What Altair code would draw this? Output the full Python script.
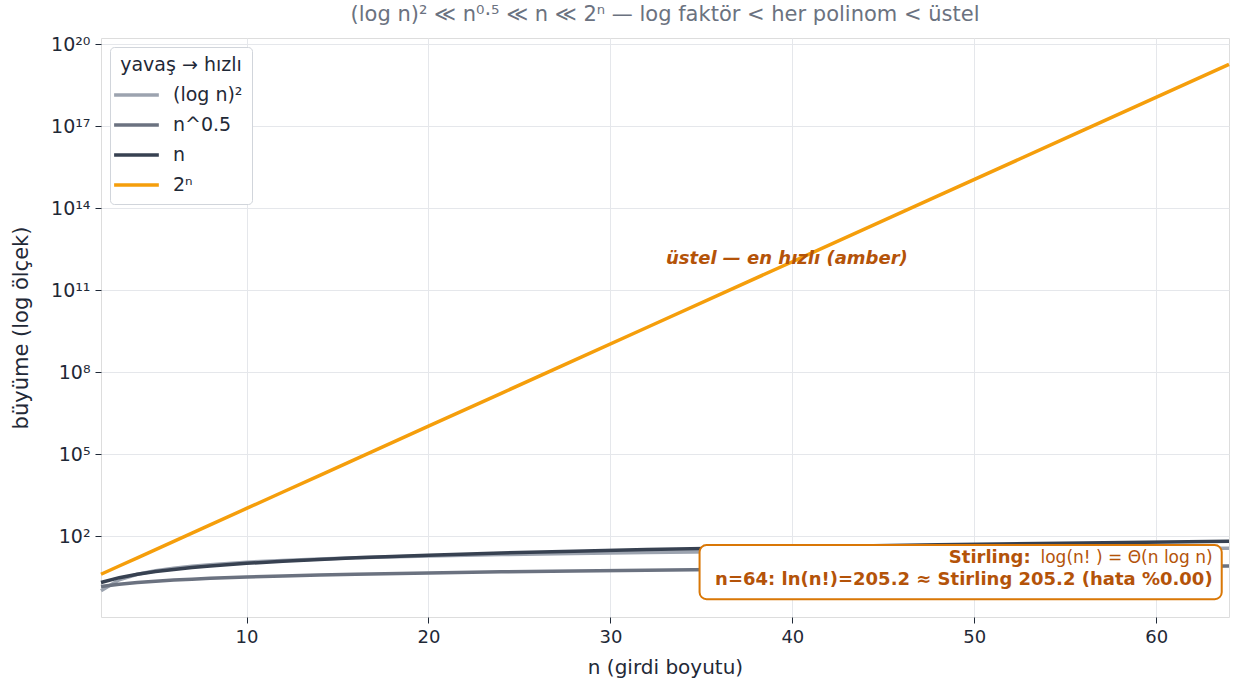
import altair as alt
import pandas as pd

# ---- data ----
n_vals = [2, 3, 4, 5, 6, 7, 8, 10, 12, 14, 16, 20, 24, 28, 32, 40, 48, 56, 64]
log2sq = [1.0, 2.512, 4.0, 5.391, 6.682, 7.880, 9.0, 11.035, 12.852, 14.507, 16.0,
          18.679, 21.022, 23.111, 25.0, 28.323, 31.192, 33.726, 36.0]
sqrt_n = [1.414, 1.732, 2.0, 2.236, 2.449, 2.646, 2.828, 3.162, 3.464, 3.742, 4.0,
          4.472, 4.899, 5.292, 5.657, 6.325, 6.928, 7.483, 8.0]
lin_n = [2, 3, 4, 5, 6, 7, 8, 10, 12, 14, 16, 20, 24, 28, 32, 40, 48, 56, 64]
exp2 = [4, 8, 16, 32, 64, 128, 256, 1024, 4096, 16384, 65536, 1048576, 16777216,
        268435456, 4294967296, 1.0995e12, 2.8147e14, 7.2058e16, 1.8447e19]

series_names = ["(log n)²", "n^0.5", "n", "2ⁿ"]
series_colors = ["#9ca3af", "#6b7280", "#374151", "#f59e0b"]
series_widths = [3.5, 3.5, 3.5, 4.5]

rows = []
for name, vals in zip(series_names, [log2sq, sqrt_n, lin_n, exp2]):
    for i, (x, y) in enumerate(zip(n_vals, vals)):
        rows.append({"n": x, "y": y, "seri": name, "order": i})
df = pd.DataFrame(rows)

x_ticks = [10, 20, 30, 40, 50, 60]
y_exps = [2, 5, 8, 11, 14, 17, 20]
y_ticks = [10.0 ** e for e in y_exps]
sup = str.maketrans("0123456789", "⁰¹²³⁴⁵⁶⁷⁸⁹")
label_expr = ""
for e in y_exps:
    label_expr += f"round(log(datum.value)/LN10)=={e} ? '10{str(e).translate(sup)}' : "
label_expr += "''"

x_dom = [2, 64]
y_dom = [10 ** -0.963, 10 ** 20.23]

FONT = "DejaVu Sans"
TXT = "#1f2937"
ANN = "#b45309"

x_scale = alt.Scale(domain=x_dom, nice=False, zero=False)
y_scale = alt.Scale(type="log", domain=y_dom, nice=False)

x_enc = alt.X("n:Q", scale=x_scale,
              axis=alt.Axis(values=x_ticks, title="n (girdi boyutu)", grid=True,
                            gridColor="#e5e7eb", labelFontSize=18, titleFontSize=20,
                            titleFontWeight="normal",
                            labelColor=TXT, titleColor=TXT, tickColor=TXT, tickSize=6,
                            domain=False, labelFont=FONT, titleFont=FONT,
                            labelPadding=5, titlePadding=11, labelFlush=False))
y_enc = alt.Y("y:Q", scale=y_scale,
              axis=alt.Axis(values=y_ticks, labelExpr=label_expr,
                            title="büyüme (log ölçek)", grid=True, gridColor="#e5e7eb",
                            labelFontSize=19, titleFontSize=21, titleFontWeight="normal",
                            labelColor=TXT,
                            titleColor=TXT, tickColor=TXT, tickSize=6, domain=False,
                            labelFont=FONT, titleFont=FONT, labelPadding=5,
                            titlePadding=19, labelFlush=False))

lines = alt.Chart(df).mark_line(strokeCap="butt").encode(
    x=x_enc,
    y=y_enc,
    color=alt.Color("seri:N", scale=alt.Scale(domain=series_names, range=series_colors),
                    legend=alt.Legend(title="yavaş → hızlı", orient="top-left",
                                      offset=9, padding=9, fillColor="white",
                                      strokeColor="#d1d5db", cornerRadius=4,
                                      symbolType="M-1.6,0H2.4", symbolStrokeWidth=4,
                                      symbolSize=500, labelFontSize=19,
                                      titleFontSize=19, titleFontWeight="normal",
                                      labelFont=FONT, titleFont=FONT, labelColor=TXT,
                                      titleColor=TXT, rowPadding=7, titlePadding=7,
                                      labelOffset=28, titleAnchor="middle")),
    strokeWidth=alt.StrokeWidth("seri:N",
                                scale=alt.Scale(domain=series_names, range=series_widths),
                                legend=None),
    order="order:Q",
)

# annotation data
ann_exp = pd.DataFrame({"n": [39.7], "y": [1.4e12], "t": ["üstel — en hızlı (amber)"]})
box = pd.DataFrame({"n": [34.9], "n2": [63.6], "y": [0.49], "y2": [46.8]})
stir_head = pd.DataFrame({"n": [53.1], "y": [15.6], "t": ["Stirling:"]})
stir_math = pd.DataFrame({"n": [63.1], "y": [15.6], "t": ["log(n! ) = Θ(n log n)"]})
stir_val = pd.DataFrame({"n": [63.1], "y": [2.44],
                         "t": ["n=64: ln(n!)=205.2 ≈ Stirling 205.2 (hata %0.00)"]})

exp_text = alt.Chart(ann_exp).mark_text(font=FONT, fontSize=18, fontWeight="bold",
                                         fontStyle="italic", color=ANN).encode(
    x=alt.X("n:Q", scale=x_scale),
    y=alt.Y("y:Q", scale=y_scale),
    text="t:N")

box_rect = alt.Chart(box).mark_rect(fill="white", stroke="#d97706", strokeWidth=2,
                                   cornerRadius=7).encode(
    x="n:Q", x2="n2:Q", y="y:Q", y2="y2:Q")

head_text = alt.Chart(stir_head).mark_text(font=FONT, fontSize=18, fontWeight="bold",
                                           color=ANN, align="right").encode(
    x="n:Q", y="y:Q", text="t:N")
math_text = alt.Chart(stir_math).mark_text(font=FONT, fontSize=17, fontWeight="normal",
                                           color=ANN, align="right").encode(
    x="n:Q", y="y:Q", text="t:N")
val_text = alt.Chart(stir_val).mark_text(font=FONT, fontSize=18, fontWeight="bold",
                                         color=ANN, align="right").encode(
    x="n:Q", y="y:Q", text="t:N")

chart = alt.layer(lines, exp_text, box_rect, head_text, math_text, val_text).properties(
    width=1128, height=579,
    title=alt.TitleParams("(log n)² ≪ n⁰·⁵ ≪ n ≪ 2ⁿ  —  log faktör < her polinom < üstel",
                          font=FONT, fontSize=21, fontWeight="normal",
                          color="#6b7280", offset=10),
    autosize=alt.AutoSizeParams(type="none"),
    padding={"left": 101, "top": 38, "right": 4, "bottom": 66},
).configure_view(stroke="#9ca3af", strokeWidth=1.5).configure(background="white")

chart.save("out.html", embed_options={"renderer": "svg", "actions": False})
